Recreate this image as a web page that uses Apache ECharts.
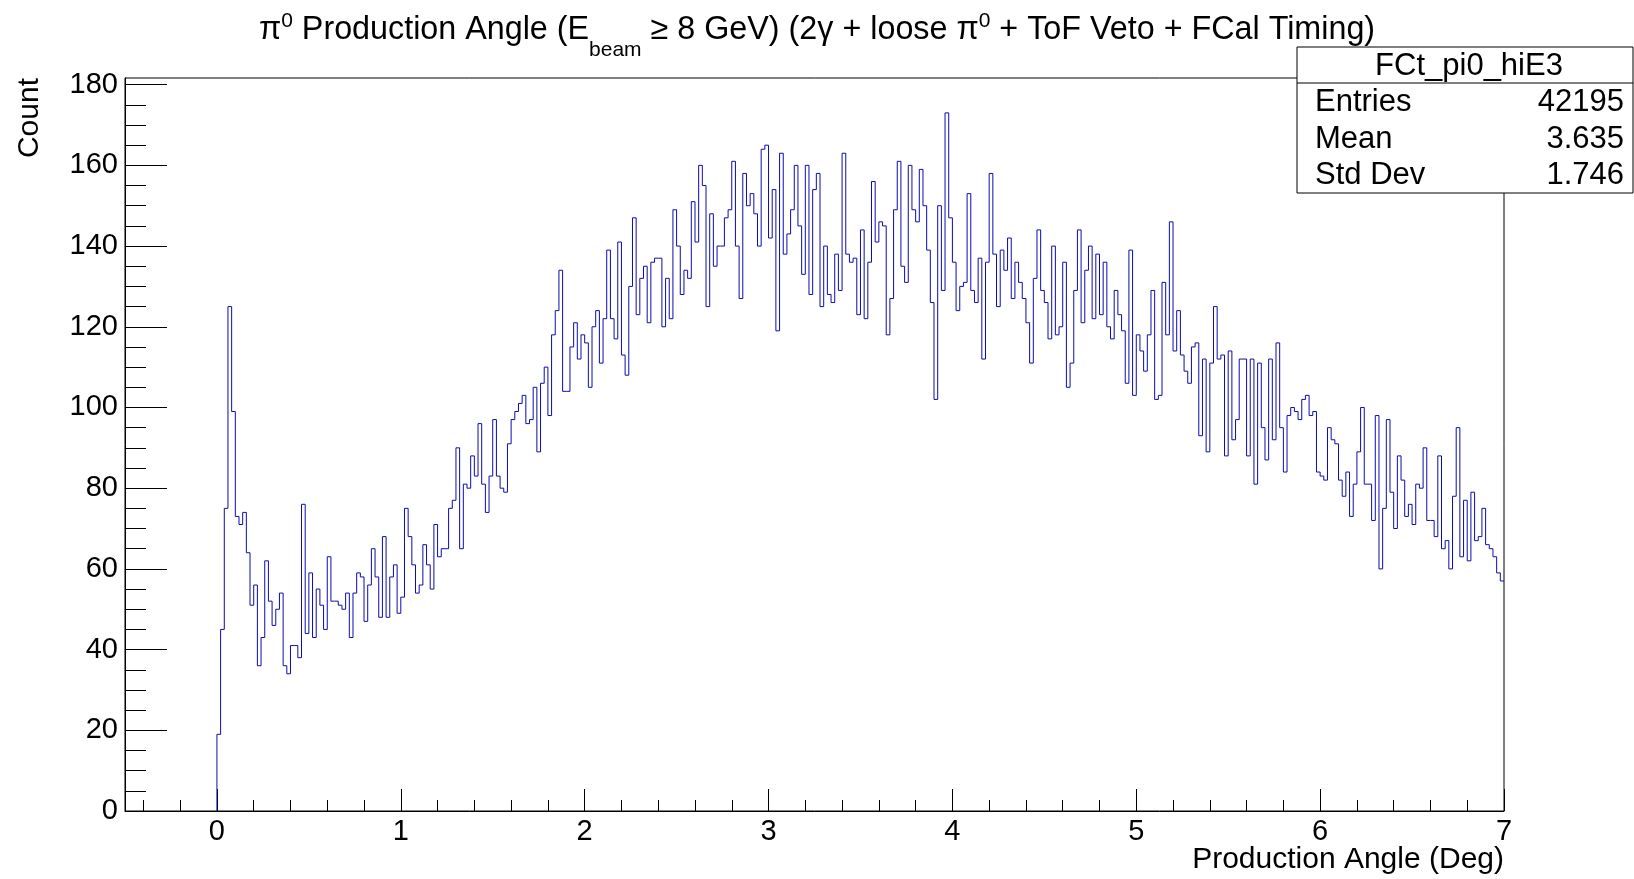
<!DOCTYPE html>
<html><head><meta charset="utf-8">
<script src="https://cdn.jsdelivr.net/npm/echarts@6/dist/echarts.min.js"></script>
<style>html,body{margin:0;padding:0;background:#fff}#c{width:1634px;height:879px}</style>
</head><body><div id="c"></div>
<script>
// ---- data ----
const histName = 'FCt_pi0_hiE3';
const binStart = 0;
const binWidth = 0.02;
const counts = [
  19, 45, 75, 125, 99, 73, 71, 74, 64, 51,
  56, 36, 43, 62, 52, 46, 50, 54, 36, 34,
  41, 41, 38, 76, 44, 59, 43, 55, 51, 45,
  63, 52, 52, 51, 50, 54, 43, 54, 59, 58,
  47, 56, 65, 58, 48, 68, 48, 58, 61, 49,
  53, 75, 68, 61, 54, 56, 66, 61, 55, 71,
  63, 65, 65, 75, 77, 90, 65, 81, 80, 88,
  83, 96, 81, 74, 83, 97, 83, 80, 79, 91,
  97, 99, 101, 103, 96, 97, 105, 89, 106, 110,
  98, 118, 124, 134, 104, 104, 115, 121, 112, 118,
  116, 105, 120, 124, 111, 122, 139, 122, 117, 141,
  113, 108, 130, 147, 123, 132, 135, 121, 136, 137,
  137, 120, 132, 122, 149, 140, 128, 134, 132, 151,
  141, 160, 155, 125, 148, 135, 140, 140, 147, 149,
  161, 140, 127, 158, 150, 153, 148, 140, 164, 165,
  142, 154, 119, 163, 138, 143, 149, 160, 145, 133,
  160, 128, 154, 158, 125, 140, 128, 126, 138, 129,
  163, 138, 136, 137, 123, 144, 122, 136, 156, 141,
  146, 145, 118, 127, 149, 161, 135, 131, 160, 149,
  146, 159, 150, 139, 126, 102, 150, 129, 173, 147,
  136, 124, 130, 131, 153, 129, 126, 137, 112, 136,
  158, 138, 125, 139, 134, 142, 127, 136, 131, 127,
  121, 111, 132, 144, 129, 126, 117, 140, 118, 120,
  136, 105, 111, 129, 144, 121, 134, 140, 122, 138,
  123, 136, 120, 117, 129, 123, 119, 106, 139, 103,
  118, 114, 109, 118, 129, 102, 103, 131, 118, 146,
  114, 124, 113, 109, 106, 115, 116, 93, 112, 89,
  111, 125, 112, 113, 88, 114, 92, 97, 112, 112,
  88, 112, 81, 111, 95, 87, 112, 92, 116, 95,
  84, 98, 100, 99, 97, 102, 103, 98, 99, 84,
  83, 82, 95, 92, 91, 82, 78, 84, 73, 81,
  89, 100, 81, 81, 72, 98, 60, 75, 97, 79,
  70, 88, 82, 73, 76, 71, 81, 80, 90, 72,
  72, 68, 88, 65, 67, 60, 78, 95, 63, 77,
  62, 79, 67, 68, 75, 66, 65, 63, 59, 57
];
const xMajorTicks = [0, 1, 2, 3, 4, 5, 6, 7];
const xMinorTicks = [-0.4, -0.2, 0.2, 0.4, 0.6, 0.8, 1.2, 1.4, 1.6, 1.8, 2.2, 2.4, 2.6, 2.8,
  3.2, 3.4, 3.6, 3.8, 4.2, 4.4, 4.6, 4.8, 5.2, 5.4, 5.6, 5.8, 6.2, 6.4, 6.6, 6.8];
const yMajorTicks = [0, 20, 40, 60, 80, 100, 120, 140, 160, 180];
const yMinorTicks = [5, 10, 15, 25, 30, 35, 45, 50, 55, 65, 70, 75, 85, 90, 95, 105, 110, 115,
  125, 130, 135, 145, 150, 155, 165, 170, 175];
const statsLabels = ['Entries', 'Mean', 'Std Dev'];
const statsValues = ['42195', '3.635', '1.746'];
const xTitle = 'Production Angle (Deg)';
const yTitle = 'Count';

// ---- build ----
const FONT = '"Liberation Sans", Arial, sans-serif';
const histData = [[binStart, 0]];
counts.forEach((c, i) => histData.push([binStart + i * binWidth, c]));
histData.push([binStart + counts.length * binWidth, counts[counts.length - 1]]);
const yMax = Math.max(...counts) * 1.05;

const G = { left: 125, right: 130, top: 78, bottom: 68 };
const W = 1634, H = 879;

function xAxisBase(extra) {
  return Object.assign({
    type: 'value', min: -0.5, max: 7, position: 'bottom', gridIndex: 0,
    splitLine: { show: false },
    axisLine: { show: true, onZero: false, lineStyle: { color: '#000', width: 1 } },
  }, extra);
}
function yAxisBase(extra) {
  return Object.assign({
    type: 'value', min: 0, max: yMax, position: 'left', gridIndex: 0,
    splitLine: { show: false },
    axisLine: { show: true, onZero: false, lineStyle: { color: '#000', width: 1 } },
  }, extra);
}

const SF = 31;
const statsX = 1297, statsY = 47, statsW = 336, statsH = 146, statsHead = 36;
const statsRowY = [102, 139, 175];
const statsElems = [
  { type: 'rect', z: 100, shape: { x: statsX, y: statsY, width: statsW, height: statsH },
    style: { fill: '#fff', stroke: '#000', lineWidth: 1 } },
  { type: 'line', z: 101, shape: { x1: statsX, y1: statsY + statsHead, x2: statsX + statsW, y2: statsY + statsHead },
    style: { stroke: '#000', lineWidth: 1 } },
  { type: 'text', z: 101, x: statsX + statsW / 2 + 4, y: statsY + statsHead / 2 + 1,
    style: { text: histName, fontSize: SF, fontFamily: FONT, fill: '#000', align: 'center', verticalAlign: 'middle' } }
];
statsLabels.forEach((lab, i) => {
  statsElems.push({ type: 'text', z: 101, x: 1315, y: statsRowY[i],
    style: { text: lab, fontSize: SF, fontFamily: FONT, fill: '#000', align: 'left', verticalAlign: 'middle' } });
  statsElems.push({ type: 'text', z: 101, x: 1624, y: statsRowY[i],
    style: { text: statsValues[i], fontSize: SF, fontFamily: FONT, fill: '#000', align: 'right', verticalAlign: 'middle' } });
});

const TF = 32.3, TS = 21;
const option = {
  animation: false,
  backgroundColor: '#fff',
  title: {
    left: 'center', top: 0, padding: 0,
    text: '{m|π}{sup|0}{m| Production Angle (E}{sub|beam}{m| ≥ 8 GeV) (2γ + loose π}{sup|0}{m| + ToF Veto + FCal Timing)}',
    textStyle: {
      fontWeight: 'normal', fontFamily: FONT, color: '#000',
      rich: {
        m: { fontSize: TF, fontFamily: FONT, color: '#000', fontWeight: 'normal' },
        sup: { fontSize: TS, fontFamily: FONT, color: '#000', fontWeight: 'normal', padding: [0, 0, 18, 0] },
        sub: { fontSize: TS, fontFamily: FONT, color: '#000', fontWeight: 'normal', padding: [40, 0, 0, 0] }
      }
    }
  },
  grid: { left: G.left, right: G.right, top: G.top, bottom: G.bottom, show: true,
    borderColor: '#000', borderWidth: 1, backgroundColor: 'transparent', containLabel: false },
  xAxis: [
    xAxisBase({
      axisTick: { show: true, inside: true, length: 22, customValues: xMajorTicks, lineStyle: { color: '#000', width: 1 } },
      axisLabel: { show: true, customValues: xMajorTicks, fontSize: 29, fontFamily: FONT, color: '#000', margin: 6 }
    }),
    xAxisBase({
      axisLine: { show: false, onZero: false },
      axisTick: { show: true, inside: true, length: 11, customValues: xMinorTicks, lineStyle: { color: '#000', width: 1 } },
      axisLabel: { show: false }
    })
  ],
  yAxis: [
    yAxisBase({
      axisTick: { show: true, inside: true, length: 42, customValues: yMajorTicks, lineStyle: { color: '#000', width: 1 } },
      axisLabel: { show: true, customValues: yMajorTicks, fontSize: 29, fontFamily: FONT, color: '#000', margin: 7 }
    }),
    yAxisBase({
      axisLine: { show: false, onZero: false },
      axisTick: { show: true, inside: true, length: 21, customValues: yMinorTicks, lineStyle: { color: '#000', width: 1 } },
      axisLabel: { show: false }
    })
  ],
  series: [{
    type: 'line', xAxisIndex: 0, yAxisIndex: 0,
    data: histData, step: 'end', showSymbol: false, symbol: 'none',
    lineStyle: { color: '#0c0cb0', width: 1 }, clip: true, silent: true
  }],
  graphic: [
    { type: 'text', x: 30, y: 78, rotation: Math.PI / 2,
      style: { text: yTitle, fontSize: 30, fontFamily: FONT, fill: '#000', align: 'right', verticalAlign: 'middle' } },
    { type: 'text', x: 1504, y: 860,
      style: { text: xTitle, fontSize: 30, fontFamily: FONT, fill: '#000', align: 'right', verticalAlign: 'middle' } }
  ].concat(statsElems)
};

const chart = echarts.init(document.getElementById('c'), null, { renderer: 'canvas', width: W, height: H });
chart.setOption(option);
</script>
</body></html>
